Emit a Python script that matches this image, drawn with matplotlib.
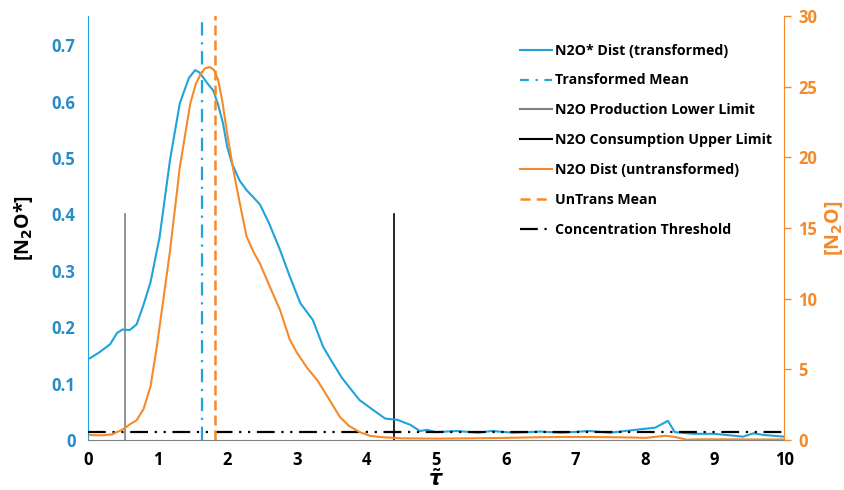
import matplotlib

matplotlib.use("Agg")
import matplotlib.pyplot as plt
from matplotlib.lines import Line2D

BLUE = "#1FA3DA"
BLUE_TXT = "#2A8CC4"
ORANGE = "#F58A2A"
GREY = "#808080"

# transformed distribution (left axis)
tau_t = [0.03, 0.17, 0.32, 0.42, 0.5, 0.6, 0.7, 0.8, 0.9, 1.03, 1.18, 1.32, 1.45, 1.54, 1.6,
         1.65, 1.72, 1.8, 1.87, 1.94, 2.0, 2.07, 2.18, 2.28, 2.38, 2.47, 2.6, 2.76, 2.9, 3.05,
         3.23, 3.38, 3.5, 3.65, 3.9, 4.1, 4.27, 4.44, 4.63, 4.77, 4.87, 5.0, 5.3, 5.6, 5.8,
         6.1, 6.5, 6.8, 7.2, 7.5, 7.93, 8.15, 8.33, 8.43, 8.7, 9.0, 9.41, 9.56, 9.7, 10.0]
n2o_t = [0.145, 0.156, 0.17, 0.19, 0.196, 0.195, 0.205, 0.24, 0.28, 0.36, 0.497, 0.597, 0.642,
         0.656, 0.652, 0.644, 0.632, 0.62, 0.595, 0.562, 0.52, 0.49, 0.46, 0.443, 0.43, 0.418,
         0.385, 0.337, 0.29, 0.243, 0.213, 0.165, 0.14, 0.11, 0.071, 0.053, 0.038, 0.036,
         0.027, 0.016, 0.018, 0.014, 0.016, 0.013, 0.016, 0.013, 0.015, 0.013, 0.016, 0.013,
         0.019, 0.022, 0.034, 0.014, 0.011, 0.011, 0.006, 0.012, 0.009, 0.006]

# untransformed distribution (right axis)
tau_u = [0.03, 0.2, 0.35, 0.5, 0.6, 0.7, 0.8, 0.9, 0.99, 1.08, 1.18, 1.32, 1.47, 1.55, 1.62,
         1.68, 1.75, 1.81, 1.87, 1.93, 2.0, 2.09, 2.18, 2.28, 2.38, 2.47, 2.6, 2.76, 2.9, 3.0,
         3.15, 3.3, 3.45, 3.62, 3.75, 3.9, 4.05, 4.2, 4.5, 5.0, 5.5, 6.0, 6.5, 7.0, 7.5, 7.8,
         8.0, 8.3, 8.45, 8.6, 8.8, 9.2, 9.6, 10.0]
n2o_u = [0.35, 0.33, 0.4, 0.75, 1.1, 1.4, 2.2, 3.8, 6.6, 9.8, 13.4, 19.3, 23.8, 25.2, 25.9,
         26.3, 26.4, 26.2, 25.5, 24.0, 21.7, 19.1, 16.8, 14.4, 13.3, 12.5, 11.0, 9.2, 7.1, 6.2,
         5.1, 4.2, 3.0, 1.63, 1.0, 0.57, 0.3, 0.21, 0.12, 0.1, 0.12, 0.15, 0.2, 0.22, 0.2, 0.18,
         0.15, 0.3, 0.2, 0.02, 0.05, 0.05, 0.04, 0.04]

trans_mean = 1.64
untrans_mean = 1.82
prod_lower = 0.54
cons_upper = 4.4
limit_height = 0.4
threshold = 0.015

left_ticks = [0, 0.1, 0.2, 0.3, 0.4, 0.5, 0.6, 0.7]
left_labels = ["0", "0.1", "0.2", "0.3", "0.4", "0.5", "0.6", "0.7"]
right_ticks = [0, 5, 10, 15, 20, 25, 30]
x_ticks = list(range(11))

plt.rcParams["font.family"] = ["Open Sans", "DejaVu Sans"]
plt.rcParams["font.weight"] = "bold"

fig = plt.figure(figsize=(8.45, 4.9), dpi=100)
ax = fig.add_axes([0.104, 0.102, 0.824, 0.865])
ax2 = ax.twinx()

ax.plot(tau_t, n2o_t, color=BLUE, lw=1.5, zorder=3)
ax.plot([trans_mean, trans_mean], [0, 0.76], color=BLUE, lw=1.6, ls=(0, (6, 3, 1, 3)), zorder=3)
ax.plot([prod_lower, prod_lower], [0, limit_height], color=GREY, lw=1.2)
ax.plot([cons_upper, cons_upper], [0, limit_height], color="black", lw=1.2)
ax.plot([0, 10], [threshold, threshold], color="black", lw=1.6, ls=(0, (8, 3, 1, 3, 1, 3)), zorder=4)

ax2.plot(tau_u, n2o_u, color=ORANGE, lw=1.5, zorder=3)
ax2.plot([untrans_mean, untrans_mean], [0, 31], color=ORANGE, lw=1.8, ls=(0, (4, 2)), zorder=3)

ax.set_xlim(0, 10)
ax.set_ylim(0, 0.7517)
ax2.set_ylim(0, 30)

ax.set_xticks(x_ticks)
ax.set_xticklabels([str(v) for v in x_ticks], fontsize=12, fontweight="bold")
ax.set_yticks(left_ticks)
ax.set_yticklabels(left_labels, fontsize=12, fontweight="bold", color=BLUE_TXT)
ax2.set_yticks(right_ticks)
ax2.set_yticklabels([str(v) for v in right_ticks], fontsize=12, fontweight="bold", color=ORANGE)

ax.tick_params(axis="x", length=0, pad=8)
ax.tick_params(axis="y", length=0, pad=9)
ax2.tick_params(axis="y", length=5, width=1, color=ORANGE, pad=5)

for a in (ax, ax2):
    a.spines["top"].set_visible(False)
ax.spines["left"].set_color(BLUE)
ax.spines["bottom"].set_color(GREY)
ax2.spines["left"].set_visible(False)
ax2.spines["bottom"].set_visible(False)
ax2.spines["right"].set_color(ORANGE)
ax.spines["right"].set_visible(False)

ax.set_xlabel(r"$\tilde{\tau}$", fontsize=15, labelpad=0)
ax.set_ylabel("[N$_2$O*]", fontsize=14, fontweight="bold", labelpad=12)
ax2.set_ylabel("[N$_2$O]", fontsize=14, fontweight="bold", color=ORANGE, labelpad=4)

handles = [
    Line2D([0], [0], color=BLUE, lw=1.5),
    Line2D([0], [0], color=BLUE, lw=1.6, ls=(0, (4, 3, 1, 3))),
    Line2D([0], [0], color=GREY, lw=1.5),
    Line2D([0], [0], color="black", lw=1.5),
    Line2D([0], [0], color=ORANGE, lw=1.5),
    Line2D([0], [0], color=ORANGE, lw=1.8, ls=(0, (4, 2.5))),
    Line2D([0], [0], color="black", lw=1.6, ls=(0, (8, 3, 1, 3, 1, 3))),
]
labels = [
    "N2O* Dist (transformed)",
    "Transformed Mean",
    "N2O Production Lower Limit",
    "N2O Consumption Upper Limit",
    "N2O Dist (untransformed)",
    "UnTrans Mean",
    "Concentration Threshold",
]
fig.legend(handles, labels, loc="upper left", bbox_to_anchor=(0.6, 0.937), frameon=False,
           labelspacing=1.12, handlelength=2.3, handletextpad=0.2,
           prop={"family": ["Open Sans", "DejaVu Sans"], "weight": "bold", "size": 10.2})

fig.savefig("out.png", dpi=100)
